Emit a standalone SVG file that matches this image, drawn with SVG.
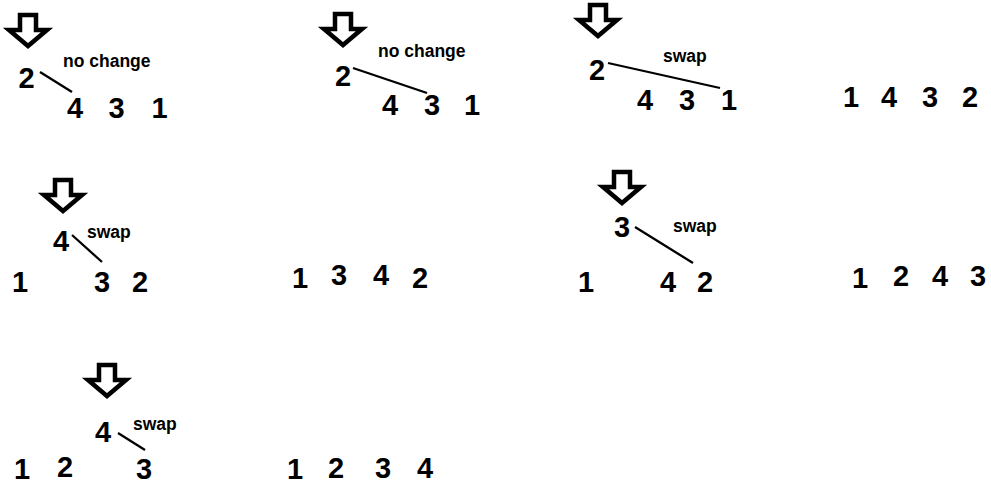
<svg xmlns="http://www.w3.org/2000/svg" width="991" height="486" viewBox="0 0 991 486">
<style>
.d{font-family:"Liberation Sans",Arial,sans-serif;font-weight:bold;font-size:29px;fill:#000;text-anchor:middle}
.l{font-family:"Liberation Sans",Arial,sans-serif;font-weight:bold;font-size:17.5px;fill:#000}
.a{fill:#fff;stroke:#000;stroke-width:4.5;stroke-linejoin:miter}
.c{stroke:#000;stroke-width:2.3;fill:none}
</style>
<defs>
<path id="arr" class="a" d="M-8,0 H8 V15 H19 L0,31 L-19,15 H-8 Z"/>
</defs>
<rect width="991" height="486" fill="#fff"/>
<g id="connectors">
<line class="c" x1="40" y1="72" x2="72" y2="92"/>
<line class="c" x1="353" y1="68" x2="427" y2="93"/>
<line class="c" x1="608" y1="63" x2="720" y2="88"/>
<line class="c" x1="72" y1="235" x2="102" y2="262"/>
<line class="c" x1="635" y1="227" x2="693" y2="263"/>
<line class="c" x1="118" y1="433" x2="145" y2="450"/>
</g>
<g id="step1">
<use href="#arr" x="28" y="15"/>
<text class="l" x="63" y="67">no change</text>
<text class="d" x="26.5" y="88">2</text>
<text class="d" x="75" y="118">4</text>
<text class="d" x="116.5" y="118">3</text>
<text class="d" x="159.5" y="118">1</text>
</g>
<g id="step2">
<use href="#arr" x="343" y="14"/>
<text class="l" x="378" y="57">no change</text>
<text class="d" x="343" y="86">2</text>
<text class="d" x="390" y="115">4</text>
<text class="d" x="432" y="115">3</text>
<text class="d" x="472" y="115">1</text>
</g>
<g id="step3">
<use href="#arr" x="598" y="5"/>
<text class="l" x="663" y="62">swap</text>
<text class="d" x="597" y="80">2</text>
<text class="d" x="645" y="110">4</text>
<text class="d" x="687" y="110">3</text>
<text class="d" x="729" y="110">1</text>
</g>
<g id="result1">
<text class="d" x="851" y="107">1</text>
<text class="d" x="889" y="107">4</text>
<text class="d" x="930" y="107">3</text>
<text class="d" x="970" y="107">2</text>
</g>
<g id="step4">
<use href="#arr" x="63" y="180"/>
<text class="l" x="87" y="238">swap</text>
<text class="d" x="61" y="251">4</text>
<text class="d" x="20" y="292">1</text>
<text class="d" x="102" y="292">3</text>
<text class="d" x="140" y="292">2</text>
</g>
<g id="result2">
<text class="d" x="300" y="288">1</text>
<text class="d" x="339" y="285">3</text>
<text class="d" x="381" y="285">4</text>
<text class="d" x="420" y="288">2</text>
</g>
<g id="step5">
<use href="#arr" x="622" y="172"/>
<text class="l" x="673" y="232">swap</text>
<text class="d" x="622" y="237">3</text>
<text class="d" x="586" y="292">1</text>
<text class="d" x="668" y="292">4</text>
<text class="d" x="705" y="292">2</text>
</g>
<g id="result3">
<text class="d" x="860" y="288">1</text>
<text class="d" x="901" y="286">2</text>
<text class="d" x="940" y="286">4</text>
<text class="d" x="978" y="286">3</text>
</g>
<g id="step6">
<use href="#arr" x="107" y="365"/>
<text class="l" x="133" y="430">swap</text>
<text class="d" x="103" y="442">4</text>
<text class="d" x="22" y="479">1</text>
<text class="d" x="65" y="477">2</text>
<text class="d" x="144" y="479">3</text>
</g>
<g id="result4">
<text class="d" x="295" y="479">1</text>
<text class="d" x="336" y="478">2</text>
<text class="d" x="383" y="478">3</text>
<text class="d" x="425" y="478">4</text>
</g>
</svg>
